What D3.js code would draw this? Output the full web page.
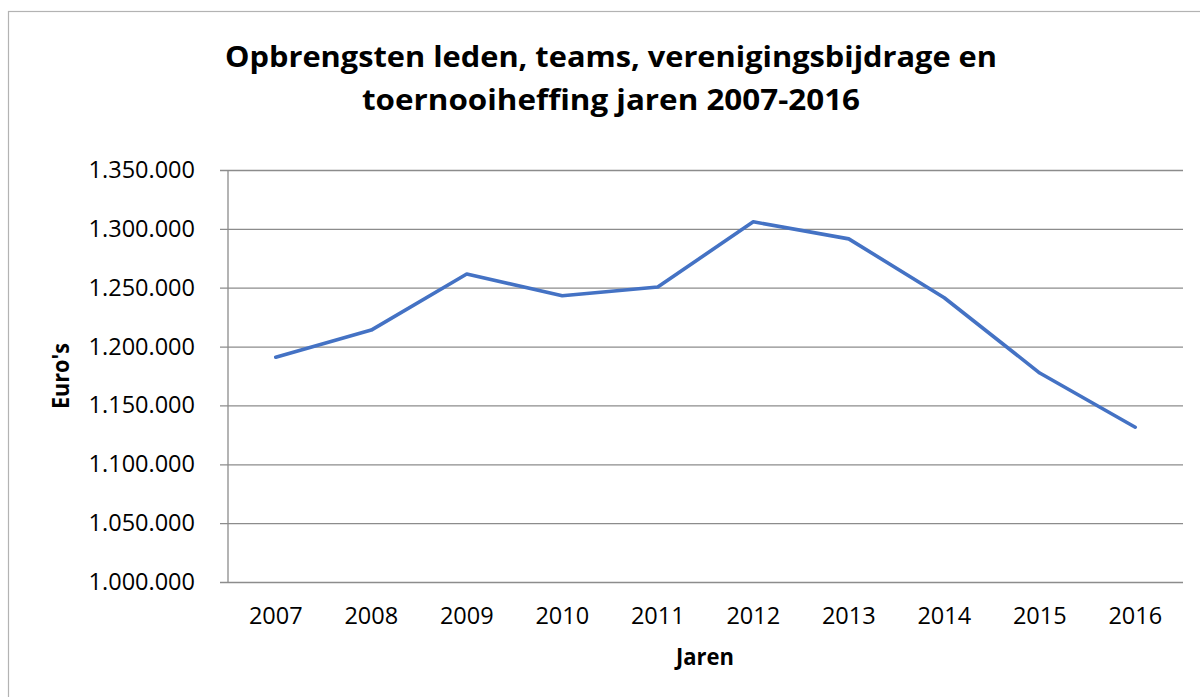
<!DOCTYPE html>
<html>
<head>
<meta charset="utf-8">
<script src="https://cdn.jsdelivr.net/npm/d3@7"></script>
<style>
  html, body { margin: 0; padding: 0; background: #fff; }
  svg { display: block; }
</style>
</head>
<body>
<div id="chart"></div>
<script>
// jaren en opbrengsten (euro's)
const jaren = ["2007", "2008", "2009", "2010", "2011", "2012", "2013", "2014", "2015", "2016"];
const opbrengsten = [1191000, 1214000, 1261700, 1243200, 1250600, 1306000, 1291500, 1241500, 1177500, 1131500];
const yTicks = [1000000, 1050000, 1100000, 1150000, 1200000, 1250000, 1300000, 1350000];
const titel = ["Opbrengsten leden, teams, verenigingsbijdrage en", "toernooiheffing jaren 2007-2016"];

const width = 1200, height = 697;
const margin = {top: 170, right: 17, bottom: 115, left: 228};

const nl = d3.formatLocale({decimal: ",", thousands: ".", grouping: [3], currency: ["€", ""]});
const fmt = nl.format(",d");

const svg = d3.select("#chart").append("svg")
    .attr("width", width)
    .attr("height", height);

// rand van het grafiekgebied
svg.append("rect")
    .attr("x", 8.5).attr("y", 11.5)
    .attr("width", 1200).attr("height", 700)
    .attr("fill", "none")
    .attr("stroke", "#b3b3b3")
    .attr("stroke-width", 1.2);

const x = d3.scaleBand()
    .domain(jaren)
    .range([margin.left, width - margin.right]);

const y = d3.scaleLinear()
    .domain([1000000, 1350000])
    .range([height - margin.bottom, margin.top]);

// y-as met rasterlijnen
const yAxis = svg.append("g")
    .attr("transform", `translate(${margin.left},0)`)
    .call(d3.axisLeft(y)
      .tickValues(yTicks)
      .tickFormat(fmt)
      .tickSize(-(width - margin.right - margin.left))
      .tickPadding(33));
yAxis.select(".domain").remove();
yAxis.selectAll(".tick line")
    .attr("x1", -8)
    .attr("stroke", "#8c8c8c")
    .attr("stroke-width", 1.3);
yAxis.selectAll(".tick text")
    .attr("font-family", "'Open Sans', 'Noto Sans', sans-serif")
    .attr("font-size", 23.5)
    .attr("fill", "#000");

// verticale aslijn
svg.append("line")
    .attr("x1", margin.left).attr("x2", margin.left)
    .attr("y1", y(1350000)).attr("y2", y(1000000))
    .attr("stroke", "#8c8c8c")
    .attr("stroke-width", 1.3);

// x-as
const xAxis = svg.append("g")
    .attr("transform", `translate(0,${height - margin.bottom})`)
    .call(d3.axisBottom(x).tickSize(0).tickPadding(25));
xAxis.select(".domain").remove();
xAxis.selectAll(".tick text")
    .attr("font-family", "'Open Sans', 'Noto Sans', sans-serif")
    .attr("font-size", 23.5)
    .attr("fill", "#000");

// lijn
const line = d3.line()
    .x((d, i) => x(jaren[i]) + x.bandwidth() / 2)
    .y(d => y(d));

svg.append("path")
    .datum(opbrengsten)
    .attr("fill", "none")
    .attr("stroke", "#4472c4")
    .attr("stroke-width", 3.6)
    .attr("stroke-linejoin", "round")
    .attr("stroke-linecap", "round")
    .attr("d", line);

// titel
const titleFont = "'Open Sans', sans-serif";
svg.append("text")
    .attr("x", 611).attr("y", 67)
    .attr("text-anchor", "middle")
    .attr("font-family", titleFont)
    .attr("font-weight", "bold")
    .attr("font-size", 28)
    .attr("textLength", 772)
    .attr("lengthAdjust", "spacingAndGlyphs")
    .text(titel[0]);

svg.append("text")
    .attr("x", 611).attr("y", 110)
    .attr("text-anchor", "middle")
    .attr("font-family", titleFont)
    .attr("font-weight", "bold")
    .attr("font-size", 28)
    .attr("textLength", 498)
    .attr("lengthAdjust", "spacingAndGlyphs")
    .text(titel[1]);

// astitels
svg.append("text")
    .attr("x", 705).attr("y", 665)
    .attr("text-anchor", "middle")
    .attr("font-family", titleFont)
    .attr("font-weight", "bold")
    .attr("font-size", 23.5)
    .attr("textLength", 58)
    .attr("lengthAdjust", "spacingAndGlyphs")
    .text("Jaren");

svg.append("text")
    .attr("transform", "translate(69,376) rotate(-90)")
    .attr("text-anchor", "middle")
    .attr("font-family", titleFont)
    .attr("font-weight", "bold")
    .attr("font-size", 23.5)
    .attr("textLength", 66)
    .attr("lengthAdjust", "spacingAndGlyphs")
    .text("Euro's");
</script>
</body>
</html>
